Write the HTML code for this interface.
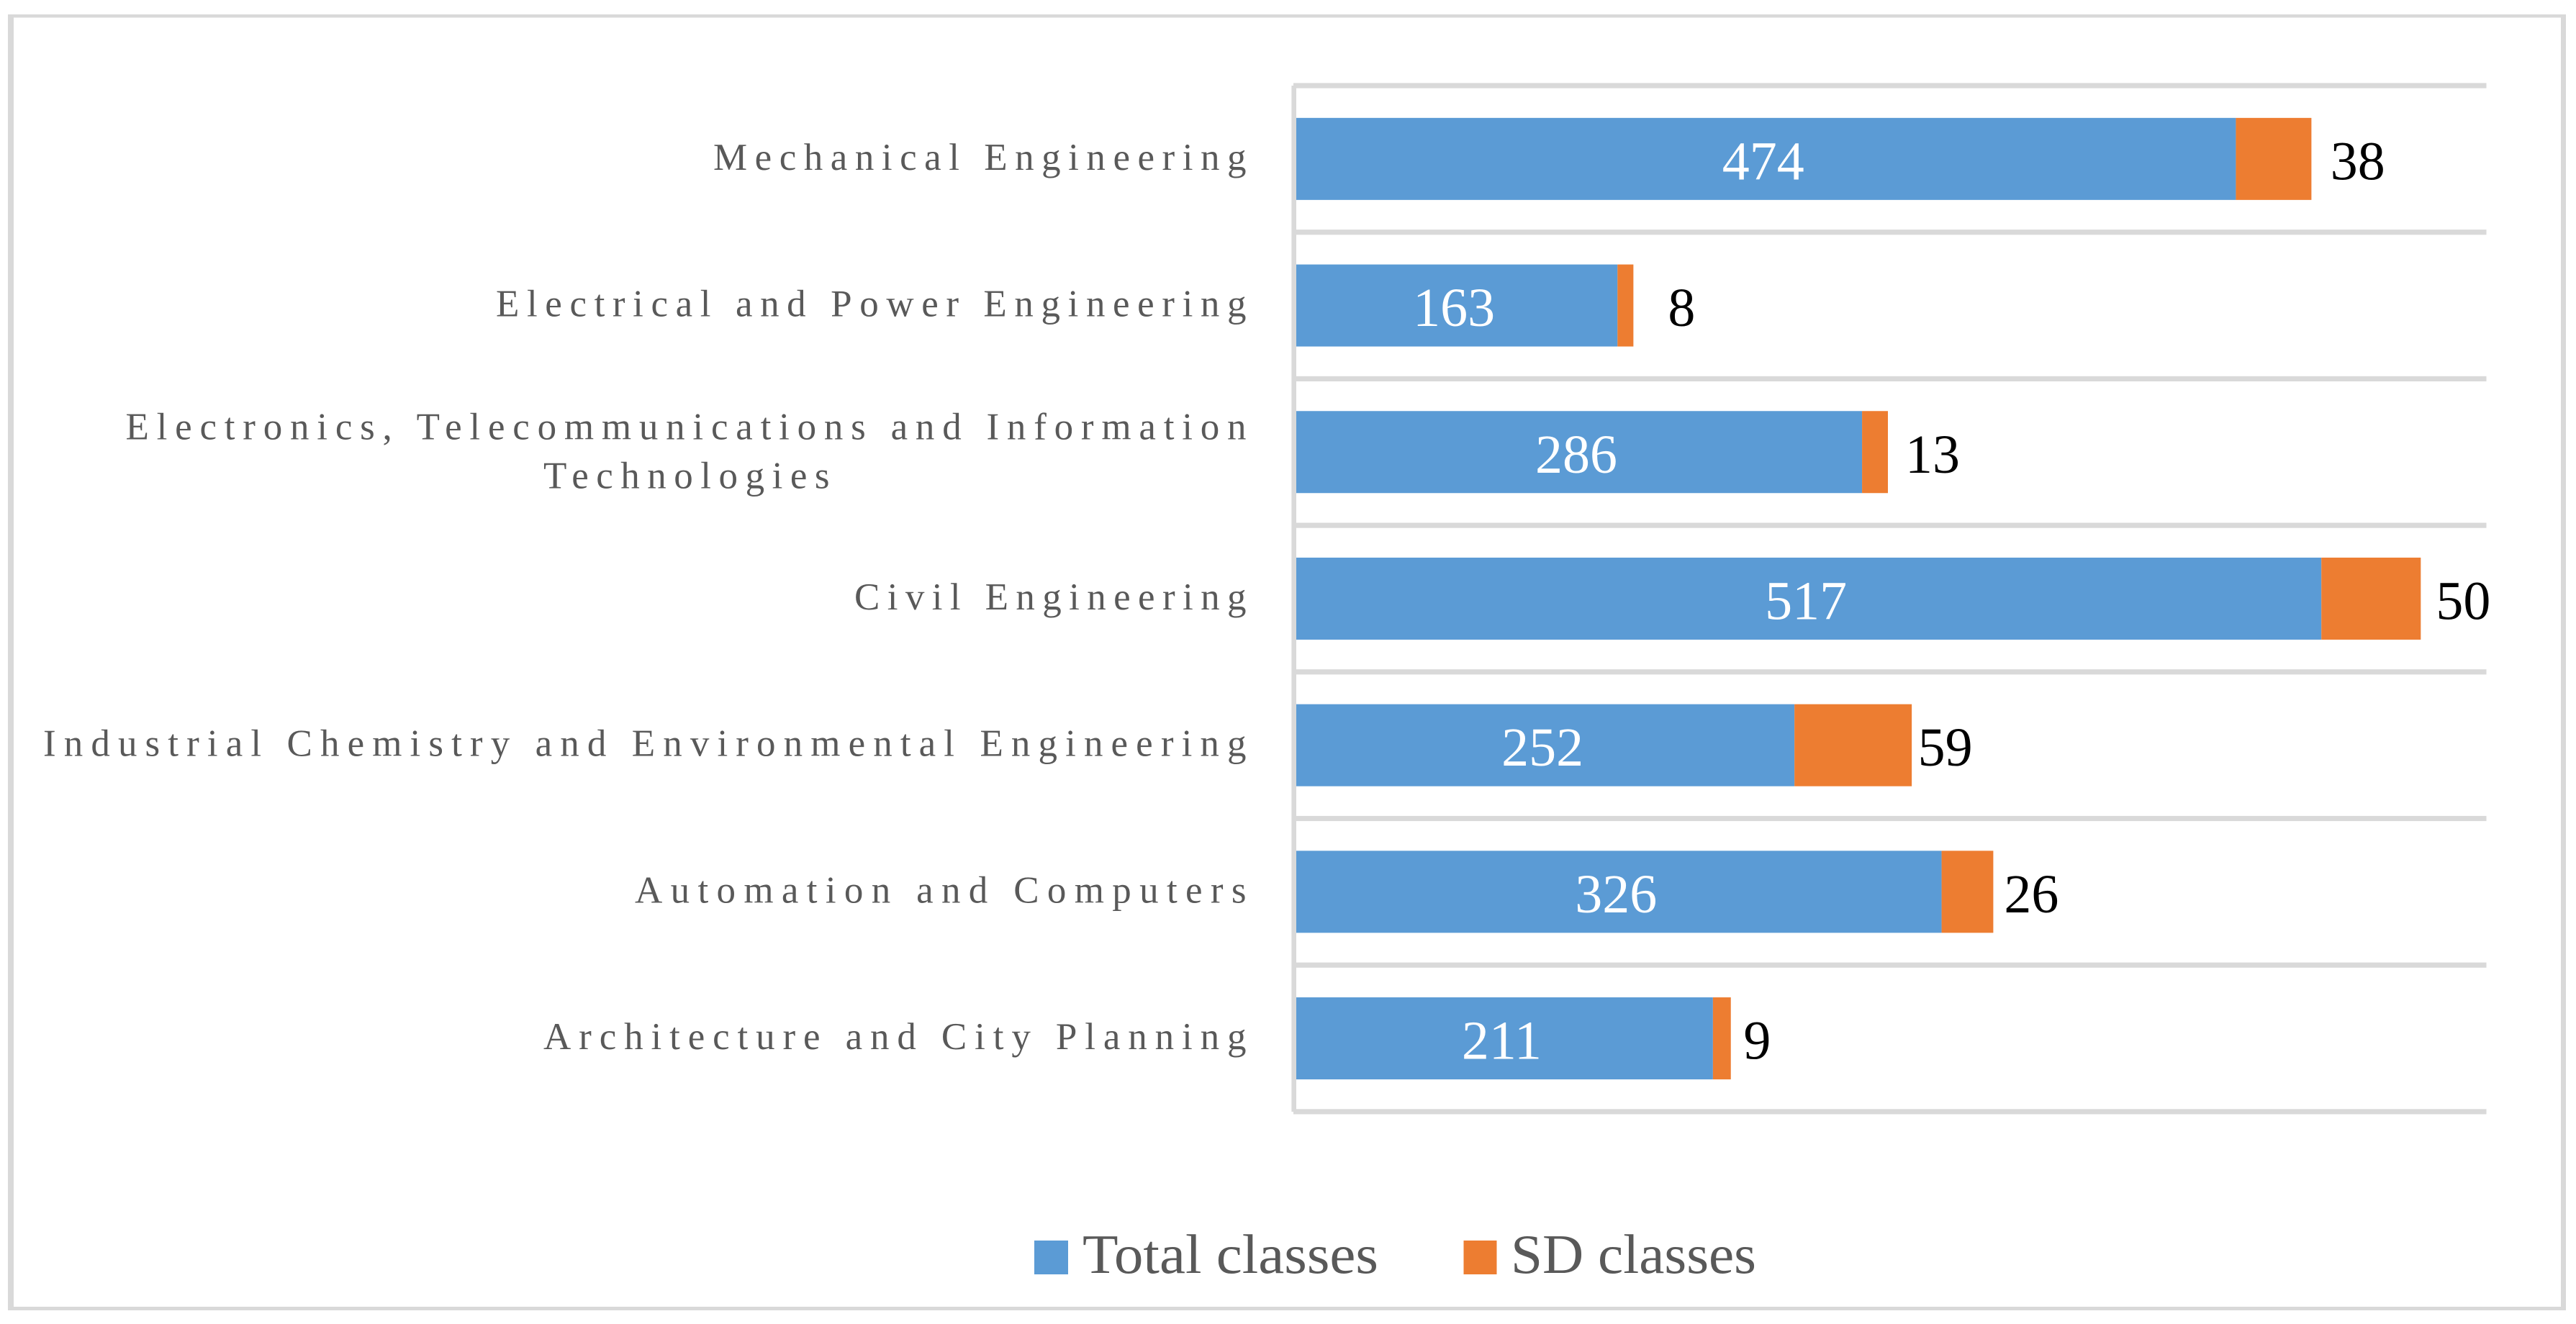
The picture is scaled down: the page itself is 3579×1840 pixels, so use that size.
<!DOCTYPE html>
<html lang="en">
<head>
<meta charset="utf-8">
<title>Total classes and SD classes by faculty</title>
<style>
html,body{margin:0;padding:0;background:#fff;width:3579px;height:1840px;overflow:hidden}
svg{display:block}
text{font-family:"Liberation Serif",serif}
</style>
</head>
<body>
<svg id="chart" xmlns="http://www.w3.org/2000/svg" width="3579" height="1840" viewBox="0 0 3579 1840">
  <rect x="0" y="0" width="3579" height="1840" fill="#ffffff"/>
  <g fill="#D9D9D9">
    <rect x="11" y="20" width="8" height="1801"/>
    <rect x="11" y="20" width="3554" height="4.5"/>
    <rect x="3558" y="20" width="7" height="1801"/>
    <rect x="11" y="1816" width="3554" height="5"/>
  </g>
  <g id="grid"></g>
  <g id="bars"></g>
  <rect x="1794.4" y="119" width="6.6" height="1426" fill="#D9D9D9"/>
  <g id="labels"></g>
  <g id="values"></g>
  <g>
    <g>
      <rect x="1437" y="1724" width="47" height="47" fill="#5B9BD5"/>
      <text x="1504" y="1769" font-size="77" fill="#595959" textLength="411" lengthAdjust="spacingAndGlyphs">Total classes</text>
    </g>
    <g>
      <rect x="2033.5" y="1724" width="46" height="47" fill="#ED7D31"/>
      <text x="2099" y="1769" font-size="77" fill="#595959" textLength="341" lengthAdjust="spacingAndGlyphs">SD classes</text>
    </g>
  </g>
</svg>
<script>
const categories = [
  "Mechanical Engineering",
  "Electrical and Power Engineering",
  "Electronics, Telecommunications and Information|Technologies",
  "Civil Engineering",
  "Industrial Chemistry and Environmental Engineering",
  "Automation and Computers",
  "Architecture and City Planning"
];
const totalClasses = [474, 163, 286, 517, 252, 326, 211];
const sdClasses = [38, 8, 13, 50, 59, 26, 9];
const axisMax = 600;

const NS = "http://www.w3.org/2000/svg";
const plotLeft = 1797;
const plotRight = 3454.5;
const plotTop = 119;
const bandHeight = 203.7;
const barHeight = 114;

function xScale(v) {
  return plotLeft + (v / axisMax) * (plotRight - plotLeft);
}
function bandCenter(i) {
  return plotTop + bandHeight * (i + 0.5);
}
function make(tag, attrs, parent, content) {
  const el = document.createElementNS(NS, tag);
  for (const k in attrs) el.setAttribute(k, attrs[k]);
  if (content !== undefined) el.textContent = content;
  parent.appendChild(el);
  return el;
}

function drawGrid() {
  const g = document.getElementById("grid");
  for (let i = 0; i <= categories.length; i++) {
    const line = make("rect", {
      x: plotLeft, y: plotTop + bandHeight * i - 3.6,
      width: plotRight - plotLeft, height: 7.2, fill: "#D9D9D9"
    }, g);
    
    
  }
}

function drawBars() {
  const g = document.getElementById("bars");
  categories.forEach(function (c, i) {
    const y = bandCenter(i) - barHeight / 2;
    const x1 = xScale(totalClasses[i]);
    const x2 = xScale(totalClasses[i] + sdClasses[i]);
    const total = make("rect", {
      x: plotLeft, y: y, width: x1 - plotLeft, height: barHeight, fill: "#5B9BD5"
    }, g);
    
    
    const sd = make("rect", {
      x: x1, y: y, width: x2 - x1, height: barHeight, fill: "#ED7D31"
    }, g);
    
    
  });
}

function drawCategoryLabels() {
  const g = document.getElementById("labels");
  const fittedWidths = [740.5, 1042.5, 1557, 544.5, 1671.5, 849.5, 976.5];
  const endX = 1731.5;
  categories.forEach(function (c, i) {
    const parts = c.split("|");
    const cy = bandCenter(i);
    if (parts.length === 1) {
      const t = make("text", {
        x: endX, y: cy + 15, "text-anchor": "end", "font-size": 53, fill: "#595959",
        textLength: fittedWidths[i], lengthAdjust: "spacing"
      }, g, parts[0]);
      
      
    } else {
      const t1 = make("text", {
        x: endX, y: cy - 18, "text-anchor": "end", "font-size": 53, fill: "#595959",
        textLength: fittedWidths[i], lengthAdjust: "spacing"
      }, g, parts[0]);
      
      
      const t2 = make("text", {
        x: 1152.5, y: cy + 50, "text-anchor": "end", "font-size": 53, fill: "#595959",
        textLength: 397.5, lengthAdjust: "spacing"
      }, g, parts[1]);
      
      
    }
  });
}

function drawValueLabels() {
  const g = document.getElementById("values");
  const sdLabelOffsets = [64.4, 67, 62, 59, 46.5, 53, 36.6];
  categories.forEach(function (c, i) {
    const base = bandCenter(i) + 28.5;
    const t = make("text", {
      x: (plotLeft + xScale(totalClasses[i])) / 2 - 2, y: base,
      "text-anchor": "middle", "font-size": 76, fill: "#ffffff"
    }, g, String(totalClasses[i]));
    
    
    const s = make("text", {
      x: xScale(totalClasses[i] + sdClasses[i]) + sdLabelOffsets[i], y: base,
      "text-anchor": "middle", "font-size": 76, fill: "#000000"
    }, g, String(sdClasses[i]));
    
    
  });
}

drawGrid();
drawBars();
drawCategoryLabels();
drawValueLabels();
</script>
</body>
</html>
